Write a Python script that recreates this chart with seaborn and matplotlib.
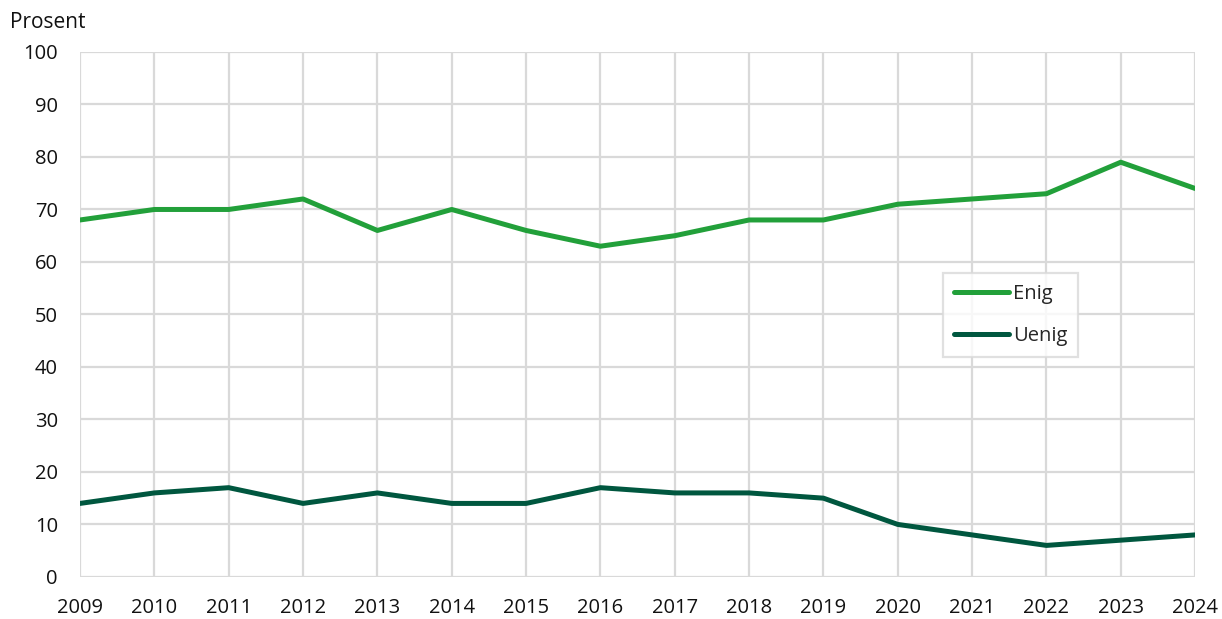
import matplotlib
matplotlib.use("Agg")
import matplotlib.pyplot as plt
import pandas as pd
import seaborn as sns

years = list(range(2009, 2025))
enig = [68, 70, 70, 72, 66, 70, 66, 63, 65, 68, 68, 71, 72, 73, 79, 74]
uenig = [14, 16, 17, 14, 16, 14, 14, 17, 16, 16, 15, 10, 8, 6, 7, 8]
y_ticks = list(range(0, 101, 10))

df = pd.DataFrame({"År": years * 2,
                   "Prosent": enig + uenig,
                   "Svar": ["Enig"] * len(years) + ["Uenig"] * len(years)})

sns.set_theme(style="white")
plt.rcParams["font.family"] = ["Open Sans", "DejaVu Sans"]
GRID = "#d9d9d9"
FS = 14.5

fig = plt.figure(figsize=(12.22, 6.19), dpi=100)
ax = fig.add_axes([0.0655, 0.068, 0.9125, 0.848])

sns.lineplot(data=df, x="År", y="Prosent", hue="Svar",
             palette={"Enig": "#22a03a", "Uenig": "#00573f"},
             linewidth=3.6, ax=ax)

ax.set_xlim(2009, 2024)
ax.set_ylim(0, 100)
ax.set_xticks(years)
ax.set_yticks(y_ticks)
ax.grid(True, color=GRID, linewidth=1.6)
ax.set_axisbelow(True)
for s in ax.spines.values():
    s.set_visible(False)
ax.tick_params(axis="both", length=0, labelsize=FS, colors="#111111")
ax.tick_params(axis="x", pad=15.5)
ax.tick_params(axis="y", pad=16)
ax.set_xlabel("")
ax.set_ylabel("")

fig.text(0.008, 0.963, "Prosent", fontsize=15, ha="left", va="center", color="#111111")

leg = ax.legend(loc="upper left", bbox_to_anchor=(0.7735, 0.579), frameon=True,
                fontsize=FS, handlelength=2.75, handletextpad=0.2,
                labelspacing=1.1, borderpad=0.55, borderaxespad=0,
                fancybox=False)
leg.get_frame().set_edgecolor(GRID)
leg.get_frame().set_linewidth(1.6)
leg.set_title(None)

fig.savefig("out.png", dpi=100)
